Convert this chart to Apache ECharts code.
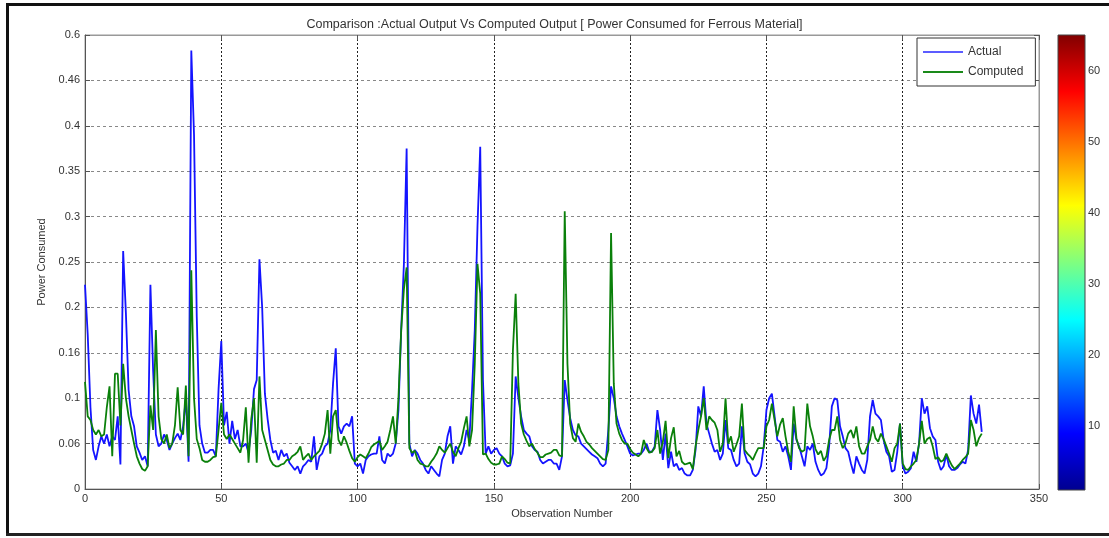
<!DOCTYPE html>
<html><head><meta charset="utf-8">
<script src="https://cdn.jsdelivr.net/npm/echarts@6/dist/echarts.min.js"></script>
<style>html,body{margin:0;padding:0;background:#fff;} #c{width:1109px;height:538px;}</style>
</head><body><div id="c"></div>
<script>
const titleText = 'Comparison :Actual Output Vs Computed Output [ Power Consumed for Ferrous Material]';
const xAxisName = 'Observation Number';
const yAxisName = 'Power Consumed';
const seriesNames = ['Actual', 'Computed'];
const xTickLabels = ['0','50','100','150','200','250','300','350'];
const yTickLabels = ['0','0.06','0.1','0.16','0.2','0.25','0.3','0.35','0.4','0.46','0.6'];
const colorbarTicks = [10,20,30,40,50,60];

const actual = [
0.225,0.17,0.09,0.043,0.032,0.047,0.058,0.05,0.06,0.047,
0.058,0.054,0.08,0.027,0.262,0.194,0.109,0.08,0.069,0.047,
0.04,0.032,0.036,0.025,0.225,0.13,0.06,0.047,0.05,0.06,
0.054,0.043,0.05,0.056,0.061,0.054,0.069,0.1,0.03,0.483,
0.39,0.19,0.07,0.05,0.04,0.04,0.043,0.043,0.036,0.11,
0.163,0.07,0.085,0.05,0.075,0.055,0.065,0.047,0.047,0.05,
0.04,0.065,0.11,0.12,0.253,0.2,0.105,0.077,0.054,0.04,
0.042,0.032,0.043,0.036,0.039,0.029,0.025,0.021,0.025,0.017,
0.025,0.028,0.032,0.03,0.058,0.021,0.036,0.039,0.047,0.05,
0.065,0.116,0.155,0.069,0.061,0.069,0.072,0.069,0.08,0.028,
0.025,0.028,0.017,0.032,0.036,0.038,0.039,0.039,0.058,0.032,
0.028,0.039,0.036,0.039,0.05,0.087,0.175,0.248,0.375,0.05,
0.036,0.043,0.039,0.032,0.028,0.021,0.017,0.025,0.021,0.017,
0.014,0.032,0.039,0.058,0.069,0.028,0.047,0.043,0.038,0.047,
0.065,0.054,0.109,0.175,0.29,0.377,0.12,0.039,0.047,0.039,
0.043,0.045,0.039,0.036,0.028,0.025,0.026,0.039,0.124,0.10,
0.08,0.065,0.061,0.058,0.047,0.043,0.041,0.032,0.028,0.03,
0.032,0.032,0.028,0.028,0.021,0.036,0.12,0.098,0.078,0.065,
0.059,0.058,0.05,0.047,0.044,0.041,0.038,0.036,0.034,0.028,
0.025,0.028,0.065,0.113,0.10,0.08,0.069,0.061,0.054,0.047,
0.039,0.037,0.038,0.039,0.039,0.043,0.05,0.041,0.041,0.047,
0.087,0.065,0.032,0.061,0.023,0.041,0.025,0.028,0.021,0.023,
0.017,0.015,0.015,0.021,0.043,0.091,0.08,0.113,0.072,0.061,
0.05,0.041,0.043,0.032,0.039,0.076,0.045,0.043,0.032,0.025,
0.028,0.069,0.039,0.03,0.027,0.017,0.014,0.017,0.025,0.047,
0.087,0.10,0.105,0.08,0.054,0.052,0.041,0.047,0.036,0.021,
0.072,0.054,0.047,0.036,0.025,0.047,0.043,0.05,0.03,0.021,
0.015,0.017,0.023,0.047,0.091,0.10,0.098,0.069,0.058,0.045,
0.041,0.028,0.017,0.036,0.028,0.021,0.017,0.032,0.08,0.098,
0.083,0.08,0.076,0.054,0.041,0.036,0.019,0.021,0.041,0.072,
0.025,0.017,0.019,0.023,0.041,0.03,0.05,0.10,0.083,0.091,
0.067,0.058,0.054,0.03,0.021,0.025,0.038,0.025,0.021,0.021,
0.023,0.027,0.03,0.028,0.043,0.103,0.083,0.072,0.093,0.063
];

const computed = [
0.118,0.08,0.076,0.065,0.06,0.065,0.058,0.06,0.09,0.113,
0.036,0.127,0.127,0.07,0.138,0.10,0.08,0.065,0.05,0.036,
0.028,0.022,0.02,0.025,0.092,0.065,0.175,0.08,0.055,0.05,
0.06,0.045,0.05,0.07,0.112,0.065,0.06,0.114,0.036,0.241,
0.10,0.055,0.045,0.032,0.03,0.03,0.032,0.035,0.036,0.065,
0.095,0.06,0.055,0.06,0.055,0.05,0.045,0.04,0.054,0.09,
0.029,0.077,0.10,0.029,0.124,0.065,0.054,0.043,0.032,0.027,
0.025,0.025,0.027,0.028,0.032,0.032,0.036,0.038,0.041,0.047,
0.032,0.036,0.039,0.032,0.036,0.039,0.042,0.05,0.061,0.087,
0.039,0.08,0.087,0.054,0.048,0.058,0.051,0.042,0.034,0.03,
0.035,0.038,0.036,0.034,0.039,0.046,0.049,0.051,0.053,0.043,
0.047,0.052,0.065,0.08,0.05,0.10,0.175,0.22,0.244,0.045,
0.04,0.042,0.032,0.028,0.027,0.025,0.025,0.03,0.034,0.039,
0.047,0.043,0.04,0.045,0.05,0.041,0.036,0.045,0.052,0.067,
0.08,0.047,0.065,0.138,0.248,0.215,0.038,0.039,0.033,0.029,
0.027,0.027,0.028,0.036,0.033,0.029,0.028,0.153,0.215,0.116,
0.072,0.06,0.053,0.047,0.05,0.044,0.04,0.035,0.035,0.038,
0.039,0.04,0.043,0.043,0.037,0.036,0.306,0.138,0.072,0.056,
0.052,0.072,0.063,0.058,0.052,0.049,0.045,0.042,0.039,0.036,
0.033,0.032,0.043,0.282,0.116,0.072,0.061,0.054,0.05,0.05,
0.044,0.04,0.038,0.036,0.039,0.054,0.045,0.04,0.041,0.045,
0.065,0.039,0.052,0.075,0.034,0.056,0.068,0.036,0.042,0.03,
0.027,0.028,0.029,0.022,0.047,0.065,0.08,0.10,0.065,0.08,
0.076,0.073,0.065,0.041,0.05,0.10,0.05,0.058,0.041,0.049,
0.058,0.094,0.043,0.039,0.036,0.032,0.039,0.045,0.045,0.045,
0.069,0.076,0.094,0.076,0.058,0.071,0.078,0.058,0.041,0.03,
0.091,0.056,0.045,0.041,0.043,0.094,0.069,0.058,0.044,0.038,
0.042,0.031,0.036,0.054,0.065,0.065,0.08,0.054,0.045,0.05,
0.061,0.065,0.056,0.069,0.047,0.039,0.039,0.047,0.054,0.069,
0.056,0.052,0.061,0.055,0.047,0.039,0.03,0.045,0.05,0.072,
0.028,0.022,0.021,0.025,0.028,0.032,0.05,0.075,0.05,0.055,
0.057,0.047,0.033,0.035,0.03,0.032,0.039,0.032,0.026,0.022,
0.025,0.028,0.032,0.035,0.039,0.076,0.065,0.047,0.056,0.061
];

const chart = echarts.init(document.getElementById('c'), null, {renderer: 'canvas'});
const font = 'Liberation Sans, Arial, sans-serif';
const jet = new echarts.graphic.LinearGradient(0, 0, 0, 1, [
  {offset: 0, color: '#800000'},
  {offset: 0.125, color: '#ff0000'},
  {offset: 0.375, color: '#ffff00'},
  {offset: 0.625, color: '#00ffff'},
  {offset: 0.875, color: '#0000ff'},
  {offset: 1, color: '#00008f'}
]);

const option = {
  animation: false,
  backgroundColor: '#fff',
  textStyle: {fontFamily: font},
  title: {
    text: titleText, left: 'center', top: 13,
    textStyle: {fontSize: 12.5, fontWeight: 'normal', color: '#333', fontFamily: font}
  },
  legend: {
    orient: 'vertical', left: 917, top: 38,
    data: [
      {name: seriesNames[0], icon: 'rect', itemStyle: {color: '#5c5cff'}},
      {name: seriesNames[1], icon: 'rect', itemStyle: {color: '#1a8a1a'}}
    ],
    itemWidth: 40, itemHeight: 2, itemGap: 8,
    padding: [8, 12, 8, 6],
    backgroundColor: '#fff', borderColor: '#333', borderWidth: 1, borderRadius: 0,
    textStyle: {fontSize: 12, color: '#333', fontFamily: font}
  },
  grid: [
    {left: 85, top: 35, width: 954, height: 454, show: true, borderColor: '#999', borderWidth: 1, backgroundColor: '#fff'},
    {left: 1058, top: 35, width: 27, height: 455, show: true, borderColor: '#444', borderWidth: 1, backgroundColor: jet}
  ],
  xAxis: [
    {gridIndex: 0, type: 'value', min: 0, max: 350, interval: 50, position: 'bottom',
     axisLine: {onZero: false, lineStyle: {color: '#555'}},
     axisTick: {inside: true, length: 5, lineStyle: {color: '#555'}},
     axisLabel: {color: '#333', fontSize: 11, margin: 4, formatter: v => xTickLabels[Math.round(v / 50)]},
     splitLine: {show: true, lineStyle: {color: '#222', type: [2, 2], width: 1}},
     name: xAxisName, nameLocation: 'middle', nameGap: 19,
     nameTextStyle: {color: '#333', fontSize: 11}},
    {gridIndex: 0, type: 'value', min: 0, max: 350, interval: 50, position: 'top',
     axisLine: {onZero: false, lineStyle: {color: '#999'}},
     axisTick: {inside: true, length: 5, lineStyle: {color: '#555'}},
     axisLabel: {show: false}, splitLine: {show: false}},
    {gridIndex: 1, type: 'category', data: ['c'], show: false}
  ],
  yAxis: [
    {gridIndex: 0, type: 'value', min: 0, max: 0.5, interval: 0.05, position: 'left',
     axisLine: {onZero: false, lineStyle: {color: '#555'}},
     axisTick: {inside: true, length: 5, lineStyle: {color: '#555'}},
     axisLabel: {color: '#333', fontSize: 11, margin: 5, formatter: v => yTickLabels[Math.round(v / 0.05)]},
     splitLine: {show: true, lineStyle: {color: '#888', type: [3, 3], width: 1}},
     name: yAxisName, nameLocation: 'middle', nameGap: 37, nameRotate: 90,
     nameTextStyle: {color: '#333', fontSize: 11}},
    {gridIndex: 0, type: 'value', min: 0, max: 0.5, interval: 0.05, position: 'right',
     axisLine: {onZero: false, lineStyle: {color: '#999'}},
     axisTick: {inside: true, length: 5, lineStyle: {color: '#555'}},
     axisLabel: {show: false}, splitLine: {show: false}},
    {gridIndex: 1, type: 'value', min: 1, max: 65, position: 'right',
     axisLine: {show: false},
     axisTick: {inside: true, length: 4, customValues: colorbarTicks, lineStyle: {color: '#000'}},
     axisLabel: {color: '#333', fontSize: 11, margin: 3, customValues: colorbarTicks},
     splitLine: {show: false}},
    {gridIndex: 1, type: 'value', min: 1, max: 65, position: 'left',
     axisLine: {show: false},
     axisTick: {inside: true, length: 4, customValues: colorbarTicks, lineStyle: {color: '#000'}},
     axisLabel: {show: false}, splitLine: {show: false}}
  ],
  series: [
    {name: seriesNames[0], type: 'line', xAxisIndex: 0, yAxisIndex: 0,
     data: actual.map((v, i) => [i, v]), showSymbol: false, symbol: 'none',
     lineStyle: {color: '#1414ff', width: 1.8}, itemStyle: {color: '#5c5cff'}, z: 3},
    {name: seriesNames[1], type: 'line', xAxisIndex: 0, yAxisIndex: 0,
     data: computed.map((v, i) => [i, v]), showSymbol: false, symbol: 'none',
     lineStyle: {color: '#0a800a', width: 1.8}, itemStyle: {color: '#1a8a1a'}, z: 4}
  ],
  graphic: [
    {type: 'rect', shape: {x: 6, y: 3, width: 3, height: 533}, style: {fill: '#111'}, silent: true},
    {type: 'rect', shape: {x: 6, y: 3, width: 1103, height: 3}, style: {fill: '#111'}, silent: true},
    {type: 'rect', shape: {x: 6, y: 533, width: 1103, height: 3}, style: {fill: '#222'}, silent: true}
  ]
};
chart.setOption(option);
</script>
</body></html>
